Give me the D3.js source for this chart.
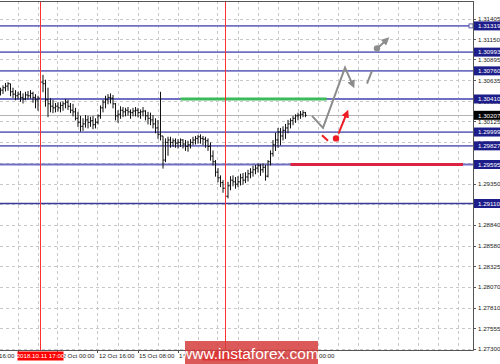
<!DOCTYPE html>
<html>
<head>
<meta charset="utf-8">
<script src="https://cdn.jsdelivr.net/npm/d3@7"></script>
<style>
  html, body { margin: 0; padding: 0; background: #fff; }
  svg { display: block; font-family: "Liberation Sans", Arial, sans-serif; }
</style>
</head>
<body>
<svg id="chart" width="500" height="364"></svg>
<script>
// GBPUSD H1 bars, 11 Oct 01:00 .. 18 Oct 03:00 (open of each bar = previous close)
const firstOpen = 1.3050;
const highs = [
  1.3055, 1.3058, 1.3061, 1.3062, 1.3060, 1.3055, 1.3052, 1.3050, 1.3051, 1.3048,
  1.3050, 1.3051, 1.3052, 1.3050, 1.3047, 1.3045, 1.3067, 1.3071, 1.3065, 1.3055,
  1.3042, 1.3040, 1.3036, 1.3037, 1.3037, 1.3038, 1.3041, 1.3040, 1.3036, 1.3035,
  1.3030, 1.3025, 1.3020, 1.3017, 1.3021, 1.3020, 1.3019, 1.3020, 1.3017, 1.3022,
  1.3033, 1.3040, 1.3045, 1.3047, 1.3048, 1.3046, 1.3036, 1.3027, 1.3032, 1.3031,
  1.3030, 1.3031, 1.3028, 1.3030, 1.3031, 1.3030, 1.3028, 1.3031, 1.3027, 1.3025,
  1.3024, 1.3021, 1.3017, 1.3015, 1.3050, 1.2995, 1.2992, 1.2994, 1.2994, 1.2992,
  1.2992, 1.2991, 1.2992, 1.2991, 1.2990, 1.2989, 1.2991, 1.2994, 1.2995, 1.2996,
  1.2997, 1.2995, 1.2994, 1.2992, 1.2987, 1.2977, 1.2965, 1.2955, 1.2946, 1.2940,
  1.2937, 1.2938, 1.2945, 1.2946, 1.2944, 1.2945, 1.2948, 1.2949, 1.2950, 1.2953,
  1.2955, 1.2958, 1.2959, 1.2961, 1.2960, 1.2961, 1.2959, 1.2965, 1.2977, 1.2990,
  1.2999, 1.3005, 1.3005, 1.3007, 1.3010, 1.3015, 1.3017, 1.3020, 1.3022, 1.3024,
  1.3026, 1.3027, 1.3025
];
const lows = [
  1.3046, 1.3048, 1.3051, 1.3052, 1.3045, 1.3043, 1.3040, 1.3041, 1.3038, 1.3036,
  1.3040, 1.3041, 1.3042, 1.3037, 1.3030, 1.3027, 1.3040, 1.3050, 1.3032, 1.3019,
  1.3025, 1.3024, 1.3025, 1.3026, 1.3025, 1.3027, 1.3030, 1.3028, 1.3024, 1.3020,
  1.3015, 1.3007, 1.3001, 1.3002, 1.3006, 1.3005, 1.3007, 1.3004, 1.3005, 1.3010,
  1.3017, 1.3025, 1.3030, 1.3035, 1.3036, 1.3030, 1.3015, 1.3012, 1.3017, 1.3019,
  1.3020, 1.3021, 1.3017, 1.3020, 1.3020, 1.3019, 1.3017, 1.3020, 1.3015, 1.3010,
  1.3009, 1.3005, 1.2999, 1.2992, 1.2990, 1.2955, 1.2963, 1.2971, 1.2981, 1.2982,
  1.2981, 1.2980, 1.2982, 1.2980, 1.2977, 1.2976, 1.2980, 1.2984, 1.2985, 1.2986,
  1.2986, 1.2984, 1.2981, 1.2977, 1.2965, 1.2959, 1.2945, 1.2938, 1.2932, 1.2925,
  1.2915, 1.2918, 1.2928, 1.2933, 1.2930, 1.2932, 1.2934, 1.2935, 1.2937, 1.2939,
  1.2943, 1.2945, 1.2948, 1.2950, 1.2946, 1.2950, 1.2940, 1.2944, 1.2959, 1.2970,
  1.2977, 1.2981, 1.2984, 1.2990, 1.2992, 1.2999, 1.3005, 1.3009, 1.3012, 1.3015,
  1.3017, 1.3019, 1.3019
];
const closes = [
  1.3052, 1.3055, 1.3057, 1.3060, 1.3050, 1.3047, 1.3045, 1.3047, 1.3043, 1.3041,
  1.3046, 1.3045, 1.3048, 1.3043, 1.3040, 1.3042, 1.3062, 1.3060, 1.3040, 1.3035,
  1.3032, 1.3030, 1.3032, 1.3030, 1.3033, 1.3035, 1.3037, 1.3032, 1.3027, 1.3025,
  1.3017, 1.3012, 1.3007, 1.3010, 1.3015, 1.3012, 1.3014, 1.3009, 1.3012, 1.3020,
  1.3030, 1.3037, 1.3040, 1.3043, 1.3042, 1.3035, 1.3020, 1.3022, 1.3027, 1.3025,
  1.3027, 1.3025, 1.3024, 1.3026, 1.3027, 1.3024, 1.3025, 1.3026, 1.3020, 1.3017,
  1.3015, 1.3010, 1.3005, 1.2997, 1.2995, 1.2965, 1.2987, 1.2990, 1.2987, 1.2989,
  1.2986, 1.2987, 1.2990, 1.2985, 1.2982, 1.2984, 1.2987, 1.2990, 1.2992, 1.2994,
  1.2992, 1.2991, 1.2989, 1.2982, 1.2970, 1.2963, 1.2950, 1.2943, 1.2937, 1.2930,
  1.2920, 1.2933, 1.2940, 1.2938, 1.2935, 1.2938, 1.2943, 1.2940, 1.2944, 1.2948,
  1.2950, 1.2953, 1.2955, 1.2958, 1.2953, 1.2956, 1.2945, 1.2963, 1.2973, 1.2984,
  1.2990, 1.3000, 1.2995, 1.3002, 1.3005, 1.3010, 1.3014, 1.3017, 1.3020, 1.3021,
  1.3022, 1.3024, 1.30207
];
const currentPrice = 1.30207;

// horizontal levels drawn on the chart
const levels = [1.31319, 1.30993, 1.30760, 1.30410, 1.29999, 1.29827, 1.29595, 1.29110];
const greenLevel = { price: 1.30410, from: 72, to: 130.5 };
const redLevel = { price: 1.29595, from: 116, to: 185 };

// price axis ticks
const priceTicks = [1.31405, 1.31150, 1.30895, 1.30635, 1.30380, 1.30125, 1.29870, 1.29610,
  1.29350, 1.29095, 1.28840, 1.28580, 1.28325, 1.28070, 1.27810, 1.27555, 1.27300];

// time axis labels (bar index where each label starts)
const timeLabels = ["10 Oct 16:00", "11 Oct 08:00", "12 Oct 00:00", "12 Oct 16:00", "15 Oct 08:00",
  "16 Oct 00:00", "16 Oct 16:00", "17 Oct 08:00", "18 Oct 00:00"];
const timeLabelBars = [-9, 7, 23, 39, 55, 71, 87, 103, 119];

// vertical markers
const markerBars = [16, 90];
const markerLabels = ["2018.10.11 17:00", "2018.10.16 19:00"];

// forecast drawings: [bar, price]
const greyPath = [[124.6, 1.3020], [129, 1.3005], [137.8, 1.3080], [141, 1.3058]];
const greyDash = [[146.6, 1.3060], [148.6, 1.3076]];
const greyDot = [150.6, 1.3104];
const greyArrow = [[151.4, 1.3106], [154.6, 1.3115]];
const redDash = [[128.6, 1.2996], [131, 1.2989]];
const redDot = [134.2, 1.2992];
const redArrow = [[135.2, 1.2998], [138.6, 1.3024]];

const plot = { left: 0, right: 473, top: 1, bottom: 350 };

const svg = d3.select('#chart');

const x = d3.scaleLinear().domain([0, 189]).range([0.5, 473]);
const y = d3.scaleLinear().domain([1.27300, 1.31405]).range([349, 19]);
const px = v => Math.floor(v) + 0.5;

// arrow markers
const defs = svg.append('defs');
[['grey', '#8c8c8c'], ['red', '#ee1c25']].forEach(([id, c]) => {
    defs.append('marker')
        .attr('id', 'arr-' + id)
        .attr('viewBox', '0 0 10 10')
        .attr('refX', 6).attr('refY', 5)
        .attr('markerWidth', 4).attr('markerHeight', 4)
        .attr('orient', 'auto')
        .append('path')
        .attr('d', 'M0,0 L10,5 L0,10 z')
        .attr('fill', c);
});
defs.append('clipPath').attr('id', 'plotclip')
    .append('rect')
    .attr('x', plot.left).attr('y', plot.top)
    .attr('width', plot.right - plot.left).attr('height', plot.bottom - plot.top);

const g = svg.append('g').attr('clip-path', 'url(#plotclip)');

// grid
const gridBars = d3.range(-1, 200, 8);
g.selectAll('.vgrid').data(gridBars).enter().append('line')
    .attr('x1', d => px(x(d))).attr('x2', d => px(x(d)))
    .attr('y1', plot.top).attr('y2', plot.bottom)
    .attr('stroke', '#c8c8c8').attr('stroke-dasharray', '3,3');
g.selectAll('.hgrid').data(priceTicks).enter().append('line')
    .attr('x1', plot.left).attr('x2', plot.right)
    .attr('y1', d => px(y(d))).attr('y2', d => px(y(d)))
    .attr('stroke', '#c8c8c8').attr('stroke-dasharray', '3,3');

// bid line
g.append('line')
    .attr('x1', plot.left).attr('x2', plot.right)
    .attr('y1', px(y(currentPrice))).attr('y2', px(y(currentPrice)))
    .attr('stroke', '#b4b4b4');

// levels
g.selectAll('.level').data(levels).enter().append('line')
    .attr('x1', plot.left).attr('x2', plot.right)
    .attr('y1', d => y(d)).attr('y2', d => y(d))
    .attr('stroke', (d, i) => i === levels.length - 1 ? '#3a3a9c' : '#7070c2')
    .attr('stroke-width', (d, i) => i === levels.length - 1 ? 1.3 : 1.8);

g.append('line')
    .attr('x1', x(greenLevel.from)).attr('x2', x(greenLevel.to))
    .attr('y1', y(greenLevel.price)).attr('y2', y(greenLevel.price))
    .attr('stroke', '#3cb95a').attr('stroke-width', 3);
g.append('line')
    .attr('x1', x(redLevel.from)).attr('x2', x(redLevel.to))
    .attr('y1', y(redLevel.price)).attr('y2', y(redLevel.price))
    .attr('stroke', '#dc2344').attr('stroke-width', 3);

// small square at the end of the top level
g.append('rect')
    .attr('x', plot.right - 4).attr('y', y(levels[0]) - 2)
    .attr('width', 4).attr('height', 4)
    .attr('fill', '#fff').attr('stroke', '#3a3a9c').attr('stroke-width', 0.8);

// OHLC bars
const bars = closes.map((c, i) => ({
    i, o: i === 0 ? firstOpen : closes[i - 1], h: highs[i], l: lows[i], c
}));
const barG = g.append('g').attr('stroke', '#111').attr('stroke-width', 1);
barG.selectAll('.hl').data(bars).enter().append('line')
    .attr('x1', d => x(d.i)).attr('x2', d => x(d.i))
    .attr('y1', d => y(d.h)).attr('y2', d => y(d.l) + 0.5);
barG.selectAll('.op').data(bars).enter().append('line')
    .attr('x1', d => x(d.i) - 1.2).attr('x2', d => x(d.i))
    .attr('y1', d => y(d.o)).attr('y2', d => y(d.o));
barG.selectAll('.cl').data(bars).enter().append('line')
    .attr('x1', d => x(d.i)).attr('x2', d => x(d.i) + 1.2)
    .attr('y1', d => y(d.c)).attr('y2', d => y(d.c));

// vertical red markers
g.selectAll('.vmark').data(markerBars).enter().append('rect')
    .attr('x', d => Math.round(x(d))).attr('y', plot.top)
    .attr('width', 1).attr('height', plot.bottom - plot.top)
    .attr('fill', '#ff3030');

// forecast drawings
const line = d3.line().x(d => x(d[0])).y(d => y(d[1]));
g.append('path').attr('d', line(greyPath))
    .attr('fill', 'none').attr('stroke', '#8c8c8c').attr('stroke-width', 2)
    .attr('marker-end', 'url(#arr-grey)');
g.append('path').attr('d', line(greyDash))
    .attr('fill', 'none').attr('stroke', '#8c8c8c').attr('stroke-width', 2);
g.append('circle').attr('cx', x(greyDot[0])).attr('cy', y(greyDot[1])).attr('r', 3.2)
    .attr('fill', '#8c8c8c');
g.append('path').attr('d', line(greyArrow))
    .attr('fill', 'none').attr('stroke', '#8c8c8c').attr('stroke-width', 2)
    .attr('marker-end', 'url(#arr-grey)');
g.append('path').attr('d', line(redDash))
    .attr('fill', 'none').attr('stroke', '#ee1c25').attr('stroke-width', 2);
g.append('circle').attr('cx', x(redDot[0])).attr('cy', y(redDot[1])).attr('r', 3.2)
    .attr('fill', '#ee1c25');
g.append('path').attr('d', line(redArrow))
    .attr('fill', 'none').attr('stroke', '#ee1c25').attr('stroke-width', 2)
    .attr('marker-end', 'url(#arr-red)');

// frame
svg.append('line').attr('x1', 0).attr('x2', plot.right + 0.5)
    .attr('y1', plot.top + 0.5).attr('y2', plot.top + 0.5).attr('stroke', '#555');
svg.append('line').attr('x1', plot.right + 0.5).attr('x2', plot.right + 0.5)
    .attr('y1', plot.top).attr('y2', plot.bottom + 0.5).attr('stroke', '#555');
svg.append('line').attr('x1', 0).attr('x2', plot.right + 0.5)
    .attr('y1', plot.bottom + 0.5).attr('y2', plot.bottom + 0.5).attr('stroke', '#555');

// price axis
const fmt = d3.format('.5f');
const axisR = svg.append('g').attr('font-size', 6.2).attr('fill', '#222');
axisR.selectAll('.tk').data(priceTicks).enter().append('line')
    .attr('x1', plot.right).attr('x2', plot.right + 3)
    .attr('y1', d => px(y(d))).attr('y2', d => px(y(d)))
    .attr('stroke', '#555');
axisR.selectAll('.tl').data(priceTicks).enter().append('text')
    .attr('x', 478).attr('y', d => y(d) + 2.2)
    .text(d => fmt(d));

const boxes = levels.map(v => ({ v, bg: '#1e1e8a' }))
    .concat([{ v: currentPrice, bg: '#000' }]);
const boxG = svg.append('g').attr('font-size', 6.2);
boxG.selectAll('rect').data(boxes).enter().append('rect')
    .attr('x', 474).attr('y', d => y(d.v) - 4.5)
    .attr('width', 26).attr('height', 9)
    .attr('fill', d => d.bg);
boxG.selectAll('text').data(boxes).enter().append('text')
    .attr('x', 478).attr('y', d => y(d.v) + 2.2)
    .attr('fill', '#fff')
    .text(d => fmt(d.v));

// time axis
const axisB = svg.append('g').attr('font-size', 6.2).attr('fill', '#222');
axisB.selectAll('.tk').data(timeLabelBars).enter().append('line')
    .attr('x1', d => px(x(d))).attr('x2', d => px(x(d)))
    .attr('y1', plot.bottom).attr('y2', plot.bottom + 3)
    .attr('stroke', '#555');
axisB.selectAll('.tl').data(timeLabels).enter().append('text')
    .attr('x', (d, i) => x(timeLabelBars[i]) + 1)
    .attr('y', 358)
    .text(d => d);

const mk = svg.append('g').attr('font-size', 6.2);
markerBars.forEach((b, i) => {
    const cx = x(b);
    mk.append('rect')
        .attr('x', cx - 23).attr('y', 351.5).attr('width', 46).attr('height', 9)
        .attr('fill', '#ff0000');
    mk.append('text')
        .attr('x', cx).attr('y', 358).attr('text-anchor', 'middle')
        .attr('fill', '#fff')
        .text(markerLabels[i]);
});

// watermark
svg.append('rect')
    .attr('x', 185).attr('y', 341).attr('width', 133).attr('height', 23)
    .attr('fill', '#d63c3c').attr('fill-opacity', 0.85);
svg.append('text')
    .attr('x', 250).attr('y', 358.5).attr('text-anchor', 'middle')
    .attr('font-size', 15.5).attr('fill', '#fff')
    .text('www.instaforex.com');
</script>
</body>
</html>
